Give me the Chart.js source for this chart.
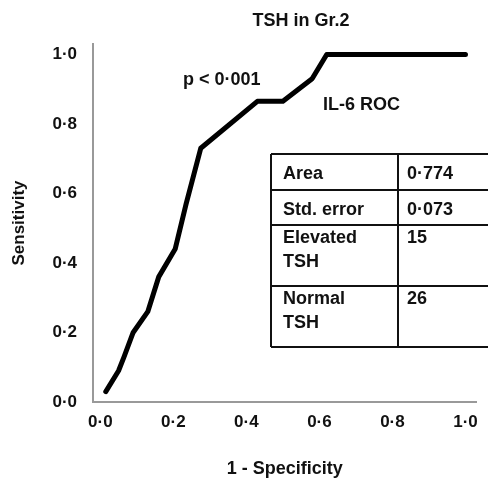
<!DOCTYPE html>
<html>
<head>
<meta charset="utf-8">
<script src="https://cdn.jsdelivr.net/npm/chart.js@4.4.1/dist/chart.umd.min.js"></script>
<style>
  html, body { margin: 0; padding: 0; background: #fff; }
  #rocChart { display: block; }
</style>
</head>
<body>
<canvas id="rocChart" width="488" height="481"></canvas>
<script>
// ===============================
// DATA
// ===============================
const fpr = [0.015, 0.05, 0.065, 0.09, 0.13, 0.16, 0.205, 0.235, 0.275, 0.43, 0.50, 0.58, 0.62, 1.0];
const tpr = [0.03, 0.09, 0.13, 0.20, 0.26, 0.36, 0.44, 0.57, 0.73, 0.865, 0.865, 0.93, 1.0, 1.0];

const xTickValues = [0, 0.2, 0.4, 0.6, 0.8, 1.0];
const xTickLabels = ["0·0", "0·2", "0·4", "0·6", "0·8", "1·0"];
const yTickValues = [0, 0.2, 0.4, 0.6, 0.8, 1.0];
const yTickLabels = ["0·0", "0·2", "0·4", "0·6", "0·8", "1·0"];

const tableRows = [
  ["Area", "0·774"],
  ["Std. error", "0·073"],
  ["Elevated\nTSH", "15"],
  ["Normal\nTSH", "26"],
];

const FONT = "'Liberation Sans', Arial, sans-serif";

// ===============================
// TEXT + TABLE OVERLAY
// ===============================
const overlay = {
  id: "overlay",
  afterDraw(chart) {
    const ctx = chart.ctx;
    ctx.save();
    ctx.fillStyle = "#111";
    ctx.font = "bold 18px " + FONT;
    ctx.textBaseline = "alphabetic";

    ctx.textAlign = "center";
    ctx.fillText("TSH in Gr.2", 301, 26);

    ctx.textAlign = "left";
    ctx.fillText("p < 0·001", 183, 85);
    ctx.fillText("IL-6 ROC", 323, 110);

    // table
    const left = 271, mid = 398, right = 492;
    const rowLines = [154, 190, 225, 286, 347];
    ctx.strokeStyle = "#111";
    ctx.lineWidth = 2;
    ctx.beginPath();
    rowLines.forEach((y) => {
      ctx.moveTo(left, y);
      ctx.lineTo(right, y);
    });
    ctx.moveTo(left, rowLines[0]);
    ctx.lineTo(left, rowLines[rowLines.length - 1]);
    ctx.moveTo(mid, rowLines[0]);
    ctx.lineTo(mid, rowLines[rowLines.length - 1]);
    ctx.stroke();

    tableRows.forEach((row, i) => {
      const lines = row[0].split("\n");
      const base = rowLines[i] + (lines.length > 1 ? 18 : 25);
      lines.forEach((line, j) => {
        ctx.fillText(line, 283, base + j * 24);
      });
      ctx.fillText(row[1], 407, base);
    });
    ctx.restore();
  },
};

// ===============================
// CHART
// ===============================
const tickFont = { family: FONT, size: 17, weight: "bold" };

new Chart(document.getElementById("rocChart"), {
  type: "line",
  data: {
    datasets: [
      {
        data: fpr.map((x, i) => ({ x: x, y: tpr[i] })),
        borderColor: "#000",
        borderWidth: 5,
        borderJoinStyle: "round",
        borderCapStyle: "round",
        pointRadius: 0,
        tension: 0,
        fill: false,
      },
    ],
  },
  options: {
    responsive: false,
    animation: false,
    devicePixelRatio: 1,
    layout: { padding: { top: 44, right: 8, left: 0, bottom: 0 } },
    plugins: {
      legend: { display: false },
      tooltip: { enabled: false },
    },
    scales: {
      x: {
        type: "linear",
        min: -0.02,
        max: 1.03,
        afterBuildTicks: (s) => {
          s.ticks = xTickValues.map((v) => ({ value: v }));
        },
        afterFit: (s) => {
          s.height = 79;
        },
        ticks: {
          callback: (v) => {
            const i = xTickValues.indexOf(v);
            return i >= 0 ? xTickLabels[i] : "";
          },
          font: tickFont,
          color: "#111",
          padding: 10,
          maxRotation: 0,
          autoSkip: false,
        },
        grid: { display: false, drawTicks: false },
        border: { display: true, color: "#999", width: 2 },
        title: {
          display: true,
          text: "1 - Specificity",
          font: { family: FONT, size: 18, weight: "bold" },
          color: "#111",
          padding: { top: 0, bottom: 1 },
        },
      },
      y: {
        type: "linear",
        min: 0,
        max: 1.03,
        afterBuildTicks: (s) => {
          s.ticks = yTickValues.map((v) => ({ value: v }));
        },
        afterFit: (s) => {
          s.width = 93;
        },
        ticks: {
          callback: (v) => {
            const i = yTickValues.indexOf(v);
            return i >= 0 ? yTickLabels[i] : "";
          },
          font: tickFont,
          color: "#111",
          padding: 16,
          autoSkip: false,
        },
        grid: { display: false, drawTicks: false },
        border: { display: true, color: "#999", width: 2 },
        title: {
          display: true,
          text: "Sensitivity",
          font: { family: FONT, size: 17, weight: "bold" },
          color: "#111",
          padding: { top: 9, bottom: 0 },
        },
      },
    },
  },
  plugins: [overlay],
});
</script>
</body>
</html>
